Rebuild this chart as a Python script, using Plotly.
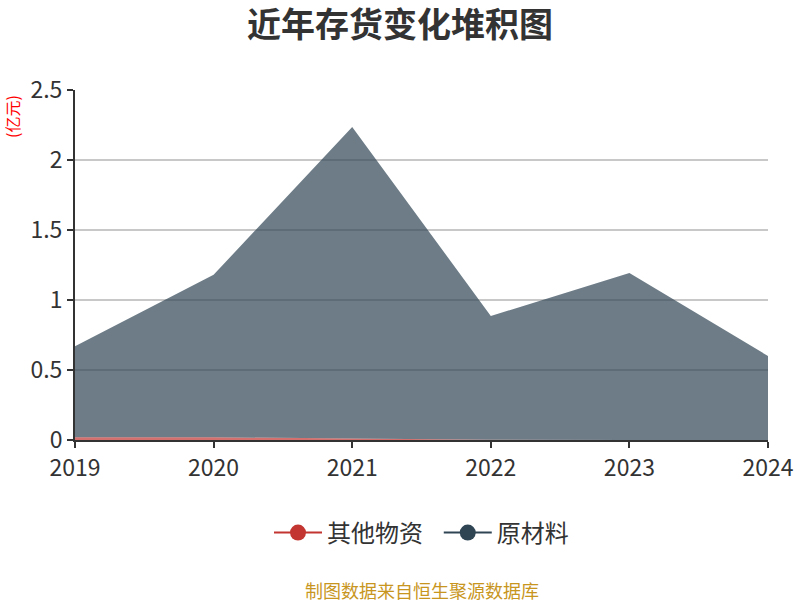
import plotly.graph_objects as go

years = [2019, 2020, 2021, 2022, 2023, 2024]
other_goods = [0.02, 0.02, 0.01, 0.002, 0.0, 0.0]
raw_materials = [0.65, 1.16, 2.226, 0.884, 1.193, 0.6]
y_ticks = [0, 0.5, 1, 1.5, 2, 2.5]
y_tick_text = ["0", "0.5", "1", "1.5", "2", "2.5"]

red = "#c23531"
dark = "#2f4554"
font_family = "Noto Sans CJK SC, Noto Sans, sans-serif"

fig = go.Figure()
fig.add_trace(go.Scatter(
    x=years, y=other_goods, name="其他物资", mode="lines",
    stackgroup="one", line=dict(width=0, color=red),
    fillcolor="rgba(194,53,49,0.7)", showlegend=False, hoverinfo="x+y+name"))
fig.add_trace(go.Scatter(
    x=years, y=raw_materials, name="原材料", mode="lines",
    stackgroup="one", line=dict(width=0, color=dark),
    fillcolor="rgba(47,69,84,0.7)", showlegend=False, hoverinfo="x+y+name"))

# legend entries
fig.add_trace(go.Scatter(x=[None], y=[None], name="其他物资\u00a0\u00a0", mode="lines+markers",
                         line=dict(color=red, width=2), marker=dict(color=red, size=22)))
fig.add_trace(go.Scatter(x=[None], y=[None], name="原材料", mode="lines+markers",
                         line=dict(color=dark, width=2), marker=dict(color=dark, size=22)))

L, R, T, B = 75, 32, 90, 160
plot_w = 800 - L - R
plot_h = 600 - T - B

fig.update_layout(
    width=800, height=600,
    margin=dict(l=L, r=R, t=T, b=B, autoexpand=False),
    paper_bgcolor="white", plot_bgcolor="white",
    font=dict(family=font_family, color="#333"),
    title=dict(text="<b>近年存货变化堆积图</b>", x=0.5, xanchor="center",
               y=1 - 25 / 600, yanchor="middle", font=dict(size=34, color="#333")),
    showlegend=True,
    legend=dict(orientation="h", x=0.5, xanchor="center", y=(440 - 533) / plot_h,
                yanchor="middle", traceorder="normal",
                font=dict(size=24, color="#333"), itemwidth=48),
    xaxis=dict(range=[2019, 2024], tickvals=years, ticktext=[str(y) for y in years],
               showgrid=False, zeroline=False, showline=True, linecolor="#333", linewidth=2,
               ticks="outside", ticklen=6, tickcolor="#333", tickwidth=2,
               tickfont=dict(size=23, color="#333")),
    yaxis=dict(range=[0, 2.5], tickvals=y_ticks, ticktext=y_tick_text,
               showgrid=True, gridcolor="#c8c8c8", gridwidth=1.5, zeroline=False,
               showline=True, linecolor="#333", linewidth=2,
               ticks="outside", ticklen=6, tickcolor="#333", tickwidth=2,
               tickfont=dict(size=23, color="#333")),
)

fig.add_annotation(text="(亿元)", x=(12 - L) / plot_w, y=(440 - 117) / plot_h,
                   xref="paper", yref="paper", xanchor="center", yanchor="middle",
                   showarrow=False, textangle=-90, font=dict(size=16, color="red"))
fig.add_annotation(text="制图数据来自恒生聚源数据库", x=0.5, y=(440 - 590) / plot_h,
                   xref="paper", yref="paper", xanchor="center", yanchor="middle",
                   showarrow=False, font=dict(size=18, color="#c8961e"))

fig.write_html("out.html", config={"displayModeBar": False},
               post_script="document.body.style.margin='0';")
